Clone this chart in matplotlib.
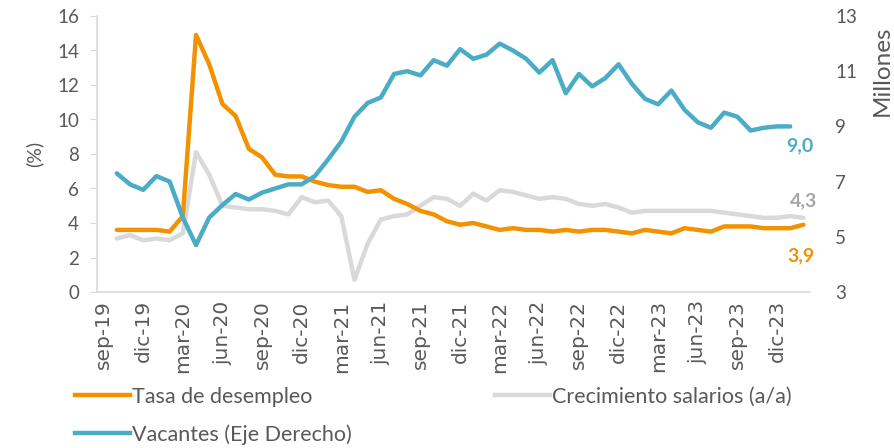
import numpy as np
import matplotlib.pyplot as plt
from matplotlib.lines import Line2D

plt.rcParams['font.family'] = ['Lato', 'DejaVu Sans']

# Meses (sep-19 a feb-24)
meses = ['sep-19', 'oct-19', 'nov-19', 'dic-19',
         'ene-20', 'feb-20', 'mar-20', 'abr-20', 'may-20', 'jun-20', 'jul-20', 'ago-20', 'sep-20', 'oct-20', 'nov-20', 'dic-20',
         'ene-21', 'feb-21', 'mar-21', 'abr-21', 'may-21', 'jun-21', 'jul-21', 'ago-21', 'sep-21', 'oct-21', 'nov-21', 'dic-21',
         'ene-22', 'feb-22', 'mar-22', 'abr-22', 'may-22', 'jun-22', 'jul-22', 'ago-22', 'sep-22', 'oct-22', 'nov-22', 'dic-22',
         'ene-23', 'feb-23', 'mar-23', 'abr-23', 'may-23', 'jun-23', 'jul-23', 'ago-23', 'sep-23', 'oct-23', 'nov-23', 'dic-23',
         'ene-24', 'feb-24']

# Tasa de desempleo (%), oct-19 a feb-24
desempleo = [3.6, 3.6, 3.6,
             3.6, 3.5, 4.4, 14.9, 13.2, 10.9, 10.2, 8.3, 7.8, 6.8, 6.7, 6.7,
             6.4, 6.2, 6.1, 6.1, 5.8, 5.9, 5.4, 5.1, 4.7, 4.5, 4.1, 3.9,
             4.0, 3.8, 3.6, 3.7, 3.6, 3.6, 3.5, 3.6, 3.5, 3.6, 3.6, 3.5,
             3.4, 3.6, 3.5, 3.4, 3.7, 3.6, 3.5, 3.8, 3.8, 3.8, 3.7, 3.7,
             3.7, 3.9]

# Crecimiento salarios a/a (%), oct-19 a feb-24
salarios = [3.1, 3.3, 3.0,
            3.1, 3.0, 3.4, 8.1, 6.8, 5.0, 4.9, 4.8, 4.8, 4.7, 4.5, 5.5,
            5.2, 5.3, 4.4, 0.7, 2.8, 4.2, 4.4, 4.5, 5.0, 5.5, 5.4, 5.0,
            5.7, 5.3, 5.9, 5.8, 5.6, 5.4, 5.5, 5.4, 5.1, 5.0, 5.1, 4.9,
            4.6, 4.7, 4.7, 4.7, 4.7, 4.7, 4.7, 4.6, 4.5, 4.4, 4.3, 4.3,
            4.4, 4.3]

# Vacantes (millones), oct-19 a ene-24
vacantes = [7.3, 6.9, 6.7,
            7.2, 7.0, 5.7, 4.7, 5.7, 6.15, 6.55, 6.35, 6.6, 6.75, 6.9, 6.9,
            7.2, 7.8, 8.45, 9.35, 9.85, 10.05, 10.9, 11.0, 10.85, 11.4, 11.2, 11.8,
            11.45, 11.6, 12.0, 11.75, 11.45, 10.95, 11.4, 10.2, 10.9, 10.45, 10.75, 11.25,
            10.55, 10.0, 9.8, 10.3, 9.6, 9.15, 8.95, 9.5, 9.35, 8.85, 8.95, 9.0,
            9.0]

x = np.arange(len(meses))
x_des = x[1:1 + len(desempleo)]
x_sal = x[1:1 + len(salarios)]
x_vac = x[1:1 + len(vacantes)]

naranja = '#F39200'
gris = '#D9D9D9'
azul = '#4BACC6'
texto = '#595959'

fig = plt.figure(figsize=(8.94, 4.48), dpi=100)
ax = fig.add_axes([97/894, 1 - 292/448, (810 - 97)/894, (292 - 16)/448])
ax2 = ax.twinx()

ax.plot(x_sal, salarios, color=gris, lw=3.2, solid_capstyle='round', solid_joinstyle='round', zorder=2)
ax.plot(x_des, desempleo, color=naranja, lw=3.2, solid_capstyle='round', solid_joinstyle='round', zorder=3)
ax2.plot(x_vac, vacantes, color=azul, lw=3.2, solid_capstyle='round', solid_joinstyle='round')

ax.set_xlim(-0.5, 53.5)
ax.set_ylim(0, 16)
ax.set_yticks(range(0, 17, 2))
ax2.set_ylim(3, 13)
ax2.set_yticks(range(3, 14, 2))

ax.set_xticks(x[::3])
ax.set_xticklabels(meses[::3], rotation=90, family='DejaVu Sans', fontsize=14.5)

for s in ['top', 'right']:
    ax.spines[s].set_visible(False)
for s in ['top', 'right', 'left', 'bottom']:
    ax2.spines[s].set_visible(False)
ax.spines['left'].set_color(gris)
ax.spines['bottom'].set_color(gris)
ax.spines['left'].set_linewidth(1.2)
ax.spines['bottom'].set_linewidth(1.2)

ax.tick_params(axis='y', colors=texto, labelcolor=texto, labelsize=13.5, length=5, direction='out', pad=8)
ax.tick_params(axis='y', color=gris)
ax.tick_params(axis='x', labelcolor=texto, length=0, pad=6)
ax2.tick_params(axis='y', labelcolor=texto, labelsize=13.5, length=0, pad=18)

ax.set_ylabel('(%)', color=texto, fontsize=14, labelpad=10)
fig.text(882/894, 1 - 71/448, 'Millones', rotation=90, color=texto, fontsize=17.5,
         ha='center', va='center')

# Etiquetas de último dato
ax2.annotate('9,0', (x_vac[-1], vacantes[-1]), xytext=(7, -14), textcoords='offset points',
             color=azul, fontsize=14, fontweight='bold', ha='center', va='center')
ax.annotate('4,3', (x_sal[-1], salarios[-1]), xytext=(0, 12), textcoords='offset points',
            color='#A6A6A6', fontsize=14, fontweight='bold', ha='center', va='center')
ax.annotate('3,9', (x_des[-1], desempleo[-1]), xytext=(-2, -22), textcoords='offset points',
            color=naranja, fontsize=14, fontweight='bold', ha='center', va='center')

# Leyenda
h_des = Line2D([], [], color=naranja, lw=3.2)
h_sal = Line2D([], [], color=gris, lw=3.2)
h_vac = Line2D([], [], color=azul, lw=3.2)
leg_kw = dict(frameon=False, fontsize=15.5, handlelength=2.55, handletextpad=0.1,
              labelspacing=0.8, labelcolor=texto, borderpad=0, borderaxespad=0)
fig.legend([h_des, h_vac], ['Tasa de desempleo', 'Vacantes (Eje Derecho)'],
           loc='upper left', bbox_to_anchor=(75/894, 1 - 387/448), **leg_kw)
fig.legend([h_sal], ['Crecimiento salarios (a/a)'],
           loc='upper left', bbox_to_anchor=(495/894, 1 - 387/448), **leg_kw)

fig.savefig('out.png', dpi=100)
